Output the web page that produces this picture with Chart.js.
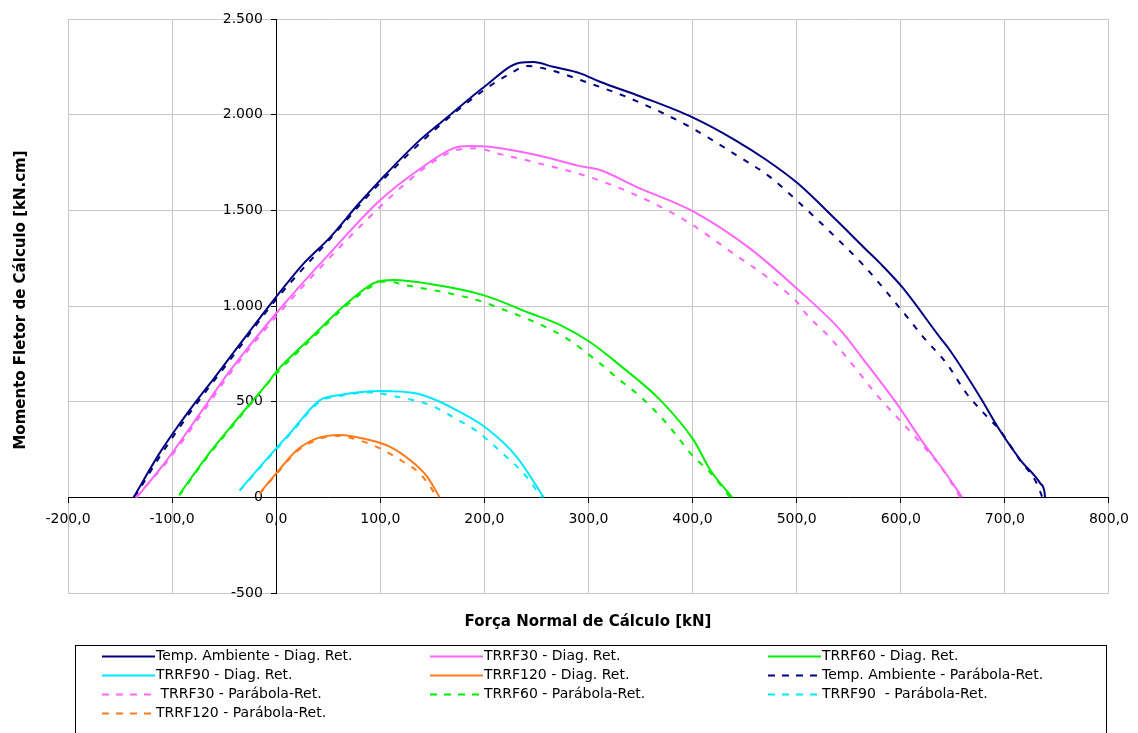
<!DOCTYPE html>
<html>
<head>
<meta charset="utf-8">
<script src="https://cdn.jsdelivr.net/npm/chart.js@4.4.1/dist/chart.umd.min.js"></script>
<style>
  body { margin: 0; background: #fff; }
</style>
</head>
<body>
<canvas id="chart" width="1138" height="733"></canvas>
<script>
// tick labels
var xTicks = [-200, -100, 0, 100, 200, 300, 400, 500, 600, 700, 800];
var xTickLabels = ['-200,0', '-100,0', '0,0', '100,0', '200,0', '300,0', '400,0', '500,0', '600,0', '700,0', '800,0'];
var yTicks = [-500, 0, 500, 1000, 1500, 2000, 2500];
var yTickLabels = ['-500', '0', '500', '1.000', '1.500', '2.000', '2.500'];

var xTitle = 'Força Normal de Cálculo [kN]';
var yTitle = 'Momento Fletor de Cálculo [kN.cm]';

// series names (legend order)
var seriesNames = [
  'Temp. Ambiente - Diag. Ret.',
  'TRRF30 - Diag. Ret.',
  'TRRF60 - Diag. Ret.',
  'TRRF90 - Diag. Ret.',
  'TRRF120 - Diag. Ret.',
  'Temp. Ambiente - Parábola-Ret.',
  ' TRRF30 - Parábola-Ret.',
  'TRRF60 - Parábola-Ret.',
  'TRRF90  - Parábola-Ret.',
  'TRRF120 - Parábola-Ret.'
];

// Temp. Ambiente - Diag. Ret.
var tempDiagX = [-137, -112, -97, -76, -61, -44, 0, 25, 52, 79, 100, 138, 167, 200, 234, 247, 266, 292, 311, 350, 400, 440, 471, 501, 538, 567, 580, 601, 638, 647, 676, 695, 715, 734, 738, 738.6];
var tempDiagY = [0, 231, 352, 508, 613, 735, 1048, 1214, 1360, 1533, 1658, 1867, 1998, 2146, 2271, 2275, 2250, 2216, 2172, 2095, 1986, 1870, 1763, 1641, 1449, 1293, 1224, 1101, 833, 770, 526, 352, 195, 73, 30, 0];
// TRRF30 - Diag. Ret.
var t30DiagX = [-134, -105, -73, -51, -44, 0, 48.5, 100, 141, 170, 186, 205, 250, 292, 311, 346, 401, 455, 500, 542, 567, 596, 622, 641, 659];
var t30DiagY = [0, 195, 440, 613, 665, 962, 1258, 1554, 1728, 1824, 1836, 1832, 1789, 1731, 1711, 1623, 1493, 1301, 1092, 874, 700, 491, 282, 143, 0];
// TRRF60 - Diag. Ret.
var t60DiagX = [-93, -67, -42, -6, 0, 36, 68, 97, 113, 148, 199, 244, 273, 301, 330, 369, 401, 417, 438];
var t60DiagY = [15, 212, 380, 613, 656, 848, 1014, 1127, 1136, 1115, 1057, 962, 900, 813, 691, 508, 299, 143, 0];
// TRRF90 - Diag. Ret.
var t90DiagX = [-35, 0, 13, 42, 61, 100, 135, 155, 173, 202, 231, 257];
var t90DiagY = [38, 256, 334, 508, 535, 556, 543, 505, 456, 361, 212, 0];
// TRRF120 - Diag. Ret.
var t120DiagX = [-16, 0, 20, 39, 61, 90, 109, 128.5, 145, 157];
var t120DiagY = [21, 125, 247, 308, 326, 299, 265, 195, 108, 0];

// Temp. Ambiente - Parábola-Ret.
var tempParX = [-136, -111, -83, -44, 0, 50, 100, 150, 200, 225, 241, 262, 301, 340, 394, 442, 474, 503, 532, 564, 599, 622, 644, 663, 683, 695, 715, 730, 736];
var tempParY = [0, 220, 441, 720, 1035, 1340, 1645, 1910, 2130, 2215, 2254, 2235, 2164, 2085, 1946, 1789, 1676, 1537, 1388, 1214, 990, 835, 700, 544, 421, 352, 190, 80, 0];
// TRRF30 - Parábola-Ret.
var t30ParX = [-135, -105, -73, -44, 0, 50, 87, 120, 150, 173, 193, 212, 250, 305, 356, 394, 439, 471, 500, 510, 532, 554, 577, 596, 618, 641, 657];
var t30ParY = [0, 185, 425, 650, 945, 1245, 1450, 1620, 1750, 1815, 1824, 1798, 1749, 1667, 1554, 1444, 1275, 1153, 1022, 953, 835, 691, 535, 421, 291, 140, 0];
// TRRF60 - Parábola-Ret.
var t60ParX = [-93, -67, -42, 0, 36, 68, 97, 110, 119, 164, 193, 218, 255, 279, 311, 330, 350, 375, 401, 417, 436];
var t60ParY = [10, 205, 372, 645, 838, 1005, 1118, 1128, 1115, 1069, 1031, 982, 900, 831, 700, 613, 526, 387, 212, 130, 0];
// TRRF90 - Parábola-Ret.
var t90ParX = [-35, 0, 13, 42, 61, 90, 116, 148, 173, 193, 202, 221, 237, 255];
var t90ParY = [35, 250, 328, 500, 530, 548, 526, 482, 410, 345, 305, 212, 130, 0];
// TRRF120 - Parábola-Ret.
var t120ParX = [-16, 0, 20, 39, 57, 84, 103, 122, 138, 155];
var t120ParY = [18, 120, 240, 300, 322, 291, 247, 186, 125, 0];

var seriesX = [tempDiagX, t30DiagX, t60DiagX, t90DiagX, t120DiagX, tempParX, t30ParX, t60ParX, t90ParX, t120ParX];
var seriesY = [tempDiagY, t30DiagY, t60DiagY, t90DiagY, t120DiagY, tempParY, t30ParY, t60ParY, t90ParY, t120ParY];
var seriesColors = ['#000080', '#ff66ff', '#00ee00', '#00e8ff', '#ff7a1a', '#000080', '#ff66ff', '#00ee00', '#00e8ff', '#ff7a1a'];
var seriesDashed = [false, false, false, false, false, true, true, true, true, true];

var datasets = [];
for (var i = 0; i < seriesNames.length; i++) {
  var pts = [];
  for (var j = 0; j < seriesX[i].length; j++) {
    pts.push({ x: seriesX[i][j], y: seriesY[i][j] });
  }
  datasets.push({
    label: seriesNames[i],
    data: pts,
    borderColor: seriesColors[i],
    backgroundColor: seriesColors[i],
    borderWidth: 2,
    borderDash: seriesDashed[i] ? [6, 8] : [],
    pointRadius: 0,
    showLine: true,
    fill: false,
    cubicInterpolationMode: 'monotone',
    order: 20 - i
  });
}

// titles + legend box drawn on the canvas
var extras = {
  id: 'extras',
  afterDraw: function(chart) {
    var ctx = chart.ctx;
    ctx.save();
    ctx.fillStyle = '#000';
    ctx.font = 'bold 15px "DejaVu Sans"';
    ctx.textAlign = 'center';
    ctx.textBaseline = 'middle';
    ctx.fillText(xTitle, 588, 622);
    ctx.save();
    ctx.translate(21, 300);
    ctx.rotate(-Math.PI / 2);
    ctx.fillText(yTitle, 0, 0);
    ctx.restore();

    ctx.strokeStyle = '#000';
    ctx.lineWidth = 1;
    ctx.strokeRect(75.5, 645.5, 1031, 120);

    var colX = [102, 430, 768];
    var rowY = [656, 675, 694, 713];
    ctx.font = '14px "DejaVu Sans"';
    ctx.textAlign = 'left';
    chart.data.datasets.forEach(function(ds, k) {
      var c = k % 3, r = Math.floor(k / 3);
      var x0 = colX[c], y0 = rowY[r] + 0.5;
      ctx.beginPath();
      ctx.strokeStyle = ds.borderColor;
      ctx.lineWidth = 2;
      ctx.setLineDash(ds.borderDash.length ? [7, 7] : []);
      ctx.moveTo(x0, y0);
      ctx.lineTo(x0 + 53, y0);
      ctx.stroke();
      ctx.setLineDash([]);
      ctx.fillStyle = '#000';
      ctx.fillText(ds.label, x0 + 54, rowY[r]);
    });
    ctx.restore();
  }
};

new Chart(document.getElementById('chart').getContext('2d'), {
  type: 'scatter',
  data: { datasets: datasets },
  options: {
    responsive: false,
    animation: false,
    devicePixelRatio: 1,
    layout: { padding: { left: 68, right: 28, top: 19, bottom: 140 } },
    plugins: { legend: { display: false }, tooltip: { enabled: false } },
    scales: {
      x: {
        type: 'linear',
        position: { y: 0 },
        min: -200,
        max: 800,
        afterBuildTicks: function(axis) { axis.ticks = xTicks.map(function(v) { return { value: v }; }); },
        ticks: {
          color: '#000',
          font: { family: 'DejaVu Sans', size: 14 },
          padding: 9,
          maxRotation: 0,
          autoSkip: false,
          callback: function(v) { var k = xTicks.indexOf(v); return k >= 0 ? xTickLabels[k] : ''; }
        },
        grid: { color: '#c8c8c8', lineWidth: 1, tickLength: 5, tickColor: '#000' },
        border: { color: '#000', width: 1 }
      },
      y: {
        type: 'linear',
        position: { x: 0 },
        min: -500,
        max: 2500,
        afterBuildTicks: function(axis) { axis.ticks = yTicks.map(function(v) { return { value: v }; }); },
        ticks: {
          color: '#000',
          font: { family: 'DejaVu Sans', size: 14 },
          autoSkip: false,
          // the positioned axis puts labels right on the line; pad with spaces
          callback: function(v) { var k = yTicks.indexOf(v); return k >= 0 ? yTickLabels[k] + '   ' : ''; }
        },
        grid: { color: '#c8c8c8', lineWidth: 1, tickLength: 5, tickColor: '#000' },
        border: { color: '#000', width: 1 }
      }
    }
  },
  plugins: [extras]
});
</script>
</body>
</html>
